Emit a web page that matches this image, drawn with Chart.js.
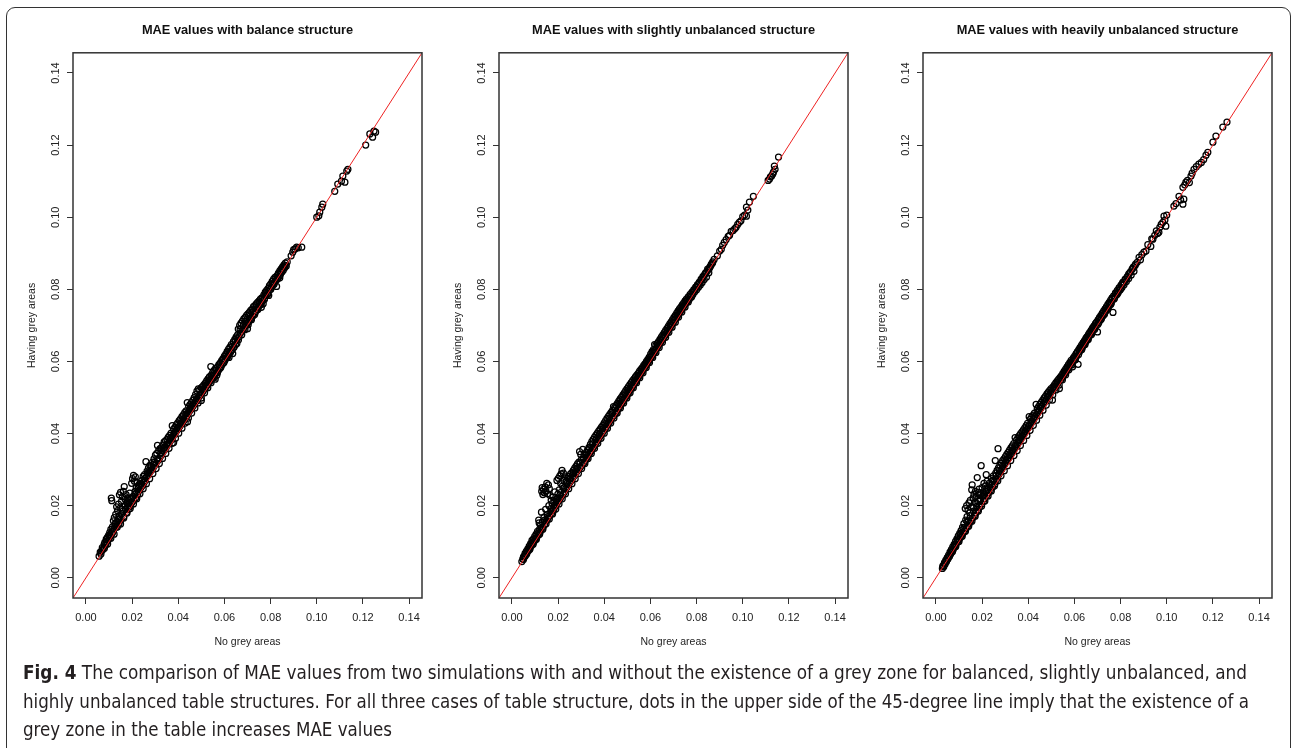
<!DOCTYPE html>
<html>
<head>
<meta charset="utf-8">
<script src="https://cdn.jsdelivr.net/npm/chart.js@4.4.0/dist/chart.umd.min.js"></script>
<style>
  body { margin: 0; width: 1292px; height: 748px; overflow: hidden; background: #fff; position: relative; }
  .frame { position: absolute; left: 6px; top: 7px; width: 1285px; height: 800px; border: 1.5px solid #333; border-radius: 9px; box-sizing: border-box; }
  .panel { position: absolute; top: 0; }
  #p1 { left: 13px; }
  #p2 { left: 439px; }
  #p3 { left: 863px; }
  .caption { position: absolute; left: 23px; top: 658px; font-family: 'Liberation Sans Narrow', 'DejaVu Sans Condensed', sans-serif; font-size: 19px; line-height: 28.5px; color: #231f20; white-space: nowrap; }
  .caption span { display: inline-block; transform-origin: 0 50%; }
</style>
</head>
<body>
<div class="frame"></div>
<canvas class="panel" id="p1" width="417" height="660"></canvas>
<canvas class="panel" id="p2" width="417" height="660"></canvas>
<canvas class="panel" id="p3" width="417" height="660"></canvas>
<div class="caption">
  <span data-w="1224"><b>Fig. 4</b> The comparison of MAE values from two simulations with and without the existence of a grey zone for balanced, slightly unbalanced, and</span><br>
  <span data-w="1226">highly unbalanced table structures. For all three cases of table structure, dots in the upper side of the 45-degree line imply that the existence of a</span><br>
  <span data-w="369">grey zone in the table increases MAE values</span>
</div>
<script>
// axis range (0..0.14 plus R's 4% margin) and tick labels
const axisMin = -0.0056;
const axisMax = 0.1456;
const tickValues = [0, 0.02, 0.04, 0.06, 0.08, 0.10, 0.12, 0.14];

const titles = [
  'MAE values with balance structure',
  'MAE values with slightly unbalanced structure',
  'MAE values with heavily unbalanced structure'
];
const xTitle = 'No grey areas';
const yTitle = 'Having grey areas';

// [no grey areas, having grey areas]
const balancePoints = [
  [0.0057,0.0060],[0.0062,0.0071],[0.0068,0.0075],[0.0071,0.0084],[0.0075,0.0080],[0.0079,0.0093],[0.0082,0.0098],[0.0085,0.0090],
  [0.0088,0.0107],[0.0090,0.0101],[0.0093,0.0112],[0.0096,0.0104],[0.0098,0.0118],[0.0101,0.0110],[0.0103,0.0125],[0.0106,0.0116],
  [0.0108,0.0134],[0.0110,0.0221],[0.0112,0.0214],[0.0113,0.0122],[0.0115,0.0141],[0.0117,0.0128],[0.0119,0.0158],[0.0121,0.0135],
  [0.0123,0.0167],[0.0125,0.0143],[0.0127,0.0150],[0.0129,0.0176],[0.0131,0.0140],[0.0133,0.0197],[0.0135,0.0155],[0.0137,0.0186],
  [0.0139,0.0162],[0.0141,0.0204],[0.0143,0.0150],[0.0145,0.0230],[0.0146,0.0170],[0.0148,0.0193],[0.0150,0.0237],[0.0152,0.0160],
  [0.0154,0.0212],[0.0156,0.0178],[0.0158,0.0225],[0.0160,0.0184],[0.0162,0.0240],[0.0164,0.0170],[0.0166,0.0253],[0.0168,0.0200],
  [0.0170,0.0218],[0.0172,0.0190],[0.0174,0.0231],[0.0176,0.0181],[0.0178,0.0208],[0.0180,0.0196],[0.0182,0.0222],[0.0184,0.0190],
  [0.0186,0.0214],[0.0188,0.0201],[0.0190,0.0235],[0.0192,0.0198],[0.0194,0.0219],[0.0196,0.0206],[0.0198,0.0262],[0.0200,0.0210],
  [0.0202,0.0275],[0.0204,0.0226],[0.0206,0.0284],[0.0208,0.0215],[0.0210,0.0268],[0.0212,0.0232],[0.0214,0.0280],[0.0216,0.0222],
  [0.0218,0.0250],[0.0220,0.0236],[0.0222,0.0264],[0.0224,0.0231],[0.0226,0.0248],[0.0228,0.0240],[0.0230,0.0258],[0.0233,0.0244],
  [0.0236,0.0262],[0.0239,0.0251],[0.0242,0.0270],[0.0245,0.0256],[0.0248,0.0281],[0.0251,0.0263],[0.0254,0.0286],[0.0257,0.0270],
  [0.0260,0.0322],[0.0262,0.0280],[0.0265,0.0296],[0.0268,0.0284],[0.0271,0.0305],[0.0274,0.0290],[0.0277,0.0312],[0.0280,0.0296],
  [0.0283,0.0309],[0.0286,0.0300],[0.0289,0.0321],[0.0292,0.0306],[0.0295,0.0330],[0.0298,0.0312],[0.0301,0.0340],[0.0304,0.0318],
  [0.0307,0.0345],[0.0310,0.0367],[0.0312,0.0325],[0.0315,0.0352],[0.0318,0.0331],[0.0321,0.0358],[0.0324,0.0338],[0.0327,0.0360],
  [0.0330,0.0346],[0.0333,0.0368],[0.0336,0.0351],[0.0339,0.0377],[0.0342,0.0356],[0.0345,0.0380],[0.0348,0.0362],[0.0351,0.0384],
  [0.0354,0.0368],[0.0357,0.0390],[0.0360,0.0374],[0.0363,0.0395],[0.0366,0.0380],[0.0369,0.0401],[0.0372,0.0385],[0.0374,0.0422],
  [0.0377,0.0392],[0.0380,0.0412],[0.0383,0.0398],[0.0386,0.0418],[0.0389,0.0404],[0.0392,0.0425],[0.0395,0.0409],[0.0398,0.0430],
  [0.0401,0.0414],[0.0404,0.0436],[0.0407,0.0420],[0.0410,0.0441],[0.0413,0.0426],[0.0416,0.0447],[0.0419,0.0432],[0.0422,0.0452],
  [0.0425,0.0437],[0.0428,0.0458],[0.0431,0.0443],[0.0434,0.0463],[0.0437,0.0449],[0.0439,0.0486],[0.0442,0.0456],[0.0445,0.0475],
  [0.0448,0.0461],[0.0451,0.0480],[0.0454,0.0467],[0.0457,0.0486],[0.0460,0.0472],[0.0463,0.0492],[0.0466,0.0478],[0.0469,0.0500],
  [0.0472,0.0484],[0.0475,0.0508],[0.0478,0.0490],[0.0481,0.0518],[0.0484,0.0496],[0.0487,0.0524],[0.0490,0.0502],[0.0493,0.0521],
  [0.0496,0.0508],[0.0499,0.0527],[0.0502,0.0513],[0.0505,0.0530],[0.0508,0.0518],[0.0511,0.0535],[0.0514,0.0524],[0.0517,0.0540],
  [0.0520,0.0529],[0.0523,0.0546],[0.0526,0.0535],[0.0529,0.0552],[0.0532,0.0541],[0.0535,0.0557],[0.0538,0.0546],[0.0541,0.0586],
  [0.0543,0.0562],[0.0546,0.0552],[0.0549,0.0569],[0.0552,0.0557],[0.0555,0.0575],[0.0558,0.0563],[0.0561,0.0580],[0.0564,0.0568],
  [0.0567,0.0562],[0.0570,0.0585],[0.0573,0.0574],[0.0576,0.0591],[0.0579,0.0580],[0.0582,0.0596],[0.0585,0.0586],[0.0588,0.0602],
  [0.0591,0.0592],[0.0594,0.0608],[0.0597,0.0598],[0.0600,0.0615],[0.0603,0.0604],[0.0606,0.0620],[0.0609,0.0610],[0.0612,0.0628],
  [0.0615,0.0615],[0.0618,0.0634],[0.0621,0.0621],[0.0624,0.0640],[0.0627,0.0628],[0.0630,0.0647],[0.0633,0.0632],[0.0636,0.0622],
  [0.0639,0.0655],[0.0642,0.0640],[0.0645,0.0661],[0.0648,0.0646],[0.0651,0.0668],[0.0654,0.0650],[0.0657,0.0674],[0.0660,0.0690],
  [0.0663,0.0668],[0.0666,0.0700],[0.0669,0.0678],[0.0672,0.0706],[0.0675,0.0684],[0.0678,0.0712],[0.0681,0.0690],[0.0684,0.0718],
  [0.0687,0.0694],[0.0690,0.0722],[0.0693,0.0700],[0.0696,0.0728],[0.0699,0.0705],[0.0702,0.0732],[0.0705,0.0710],[0.0708,0.0736],
  [0.0711,0.0715],[0.0714,0.0742],[0.0717,0.0720],[0.0720,0.0745],[0.0723,0.0726],[0.0726,0.0752],[0.0729,0.0733],[0.0732,0.0755],
  [0.0735,0.0738],[0.0738,0.0760],[0.0741,0.0745],[0.0744,0.0764],[0.0747,0.0750],[0.0750,0.0768],[0.0753,0.0756],[0.0756,0.0773],
  [0.0759,0.0762],[0.0762,0.0776],[0.0765,0.0768],[0.0768,0.0760],[0.0771,0.0785],[0.0774,0.0775],[0.0777,0.0792],[0.0780,0.0783],
  [0.0783,0.0797],[0.0786,0.0788],[0.0789,0.0802],[0.0792,0.0783],[0.0795,0.0810],[0.0798,0.0800],[0.0801,0.0815],[0.0804,0.0806],
  [0.0807,0.0822],[0.0810,0.0812],[0.0813,0.0828],[0.0816,0.0818],[0.0819,0.0833],[0.0822,0.0824],[0.0826,0.0808],[0.0828,0.0838],
  [0.0831,0.0830],[0.0834,0.0845],[0.0837,0.0836],[0.0840,0.0851],[0.0843,0.0842],[0.0846,0.0857],[0.0849,0.0848],[0.0852,0.0862],
  [0.0855,0.0853],[0.0858,0.0868],[0.0861,0.0860],[0.0864,0.0873],[0.0868,0.0865],[0.0872,0.0876],
  [0.0889,0.0893],[0.0896,0.0903],[0.0900,0.0910],[0.0906,0.0912],[0.0913,0.0917],[0.0920,0.0915],[0.0935,0.0917],
  [0.1000,0.1000],[0.1009,0.1004],[0.1013,0.1014],[0.1022,0.1028],[0.1026,0.1036],
  [0.1078,0.1072],[0.1091,0.1092],[0.1107,0.1100],[0.1113,0.1114],[0.1122,0.1097],[0.1130,0.1128],[0.1135,0.1133],
  [0.1212,0.1200],[0.1230,0.1231],[0.1242,0.1222],[0.1248,0.1239],[0.1255,0.1236],
  // points lying on and just under the 45-degree line
  [0.0065,0.0066],[0.0072,0.0078],[0.0080,0.0082],[0.0087,0.0095],[0.0094,0.0094],[0.0101,0.0115],[0.0108,0.0110],[0.0115,0.0128],
  [0.0122,0.0121],[0.0129,0.0150],[0.0136,0.0141],[0.0143,0.0171],[0.0150,0.0149],[0.0157,0.0190],[0.0164,0.0166],[0.0171,0.0200],
  [0.0178,0.0180],[0.0185,0.0207],[0.0192,0.0192],[0.0199,0.0222],[0.0206,0.0205],[0.0213,0.0240],[0.0220,0.0219],[0.0227,0.0254],
  [0.0234,0.0233],[0.0241,0.0260],[0.0248,0.0247],[0.0255,0.0275],[0.0262,0.0261],[0.0269,0.0292],[0.0276,0.0275],[0.0283,0.0300],
  [0.0290,0.0289],[0.0297,0.0320],[0.0304,0.0303],[0.0311,0.0330],[0.0318,0.0317],[0.0325,0.0347],[0.0332,0.0331],[0.0339,0.0360],
  [0.0346,0.0345],[0.0353,0.0372],[0.0360,0.0359],[0.0367,0.0388],[0.0374,0.0373],[0.0381,0.0400],[0.0388,0.0387],[0.0395,0.0415],
  [0.0402,0.0401],[0.0409,0.0428],[0.0416,0.0415],[0.0423,0.0441],[0.0430,0.0429],[0.0437,0.0455],[0.0444,0.0443],[0.0451,0.0468],
  [0.0458,0.0457],[0.0465,0.0483],[0.0472,0.0471],[0.0479,0.0497],[0.0486,0.0485],[0.0493,0.0508],[0.0500,0.0499],[0.0507,0.0522],
  [0.0514,0.0513],[0.0521,0.0535],[0.0528,0.0527],[0.0535,0.0548],[0.0542,0.0541],[0.0549,0.0560],[0.0556,0.0555],[0.0563,0.0575],
  [0.0570,0.0569],[0.0577,0.0588],[0.0584,0.0583],[0.0591,0.0602],[0.0598,0.0597],[0.0605,0.0614],[0.0612,0.0611],[0.0619,0.0627],
  [0.0626,0.0625],[0.0633,0.0642],[0.0640,0.0639],[0.0647,0.0656],[0.0654,0.0663],[0.0661,0.0660],[0.0668,0.0688],[0.0675,0.0674],
  [0.0682,0.0700],[0.0689,0.0688],[0.0696,0.0712],[0.0703,0.0702],[0.0710,0.0726],[0.0717,0.0716],[0.0724,0.0738],[0.0731,0.0730],
  [0.0738,0.0750],[0.0745,0.0744],[0.0752,0.0762],[0.0759,0.0758],[0.0766,0.0776],[0.0773,0.0772],[0.0780,0.0790],[0.0787,0.0786],
  [0.0794,0.0804],[0.0801,0.0800],[0.0808,0.0815],[0.0815,0.0814],[0.0822,0.0830],[0.0829,0.0828],[0.0836,0.0843],[0.0843,0.0848],
  [0.0850,0.0855],[0.0857,0.0862],[0.0864,0.0866],
  [0.0380,0.0375],[0.0440,0.0433],[0.0500,0.0492],[0.0560,0.0551],[0.0620,0.0611],[0.0700,0.0691],[0.0760,0.0750],[0.0840,0.0832]
];

const slightPoints = [
  [0.0043,0.0045],[0.0047,0.0052],[0.0050,0.0058],[0.0054,0.0061],[0.0057,0.0068],[0.0060,0.0064],[0.0063,0.0074],[0.0066,0.0071],
  [0.0069,0.0080],[0.0072,0.0076],[0.0075,0.0088],[0.0078,0.0083],[0.0081,0.0095],[0.0084,0.0089],[0.0087,0.0104],[0.0090,0.0096],
  [0.0093,0.0108],[0.0096,0.0101],[0.0099,0.0115],[0.0102,0.0106],[0.0105,0.0121],[0.0108,0.0113],[0.0111,0.0129],[0.0114,0.0119],
  [0.0116,0.0160],[0.0118,0.0152],[0.0120,0.0135],[0.0122,0.0126],[0.0124,0.0146],[0.0126,0.0133],[0.0128,0.0182],[0.0129,0.0240],
  [0.0131,0.0250],[0.0132,0.0155],[0.0134,0.0231],[0.0135,0.0140],[0.0137,0.0245],[0.0139,0.0168],[0.0140,0.0236],[0.0142,0.0148],
  [0.0144,0.0252],[0.0146,0.0190],[0.0147,0.0241],[0.0149,0.0158],[0.0151,0.0262],[0.0153,0.0176],[0.0154,0.0233],[0.0156,0.0165],
  [0.0158,0.0258],[0.0160,0.0200],[0.0162,0.0247],[0.0164,0.0172],[0.0166,0.0228],[0.0168,0.0184],[0.0170,0.0215],[0.0172,0.0178],
  [0.0174,0.0206],[0.0176,0.0190],[0.0178,0.0224],[0.0180,0.0186],[0.0182,0.0210],[0.0184,0.0195],[0.0186,0.0238],[0.0188,0.0199],
  [0.0190,0.0217],[0.0192,0.0203],[0.0195,0.0270],[0.0197,0.0209],[0.0199,0.0232],[0.0201,0.0276],[0.0203,0.0214],[0.0205,0.0244],
  [0.0207,0.0282],[0.0209,0.0220],[0.0211,0.0262],[0.0213,0.0288],[0.0215,0.0226],[0.0217,0.0298],[0.0219,0.0254],[0.0221,0.0231],
  [0.0223,0.0290],[0.0225,0.0270],[0.0227,0.0238],[0.0230,0.0280],[0.0233,0.0247],[0.0236,0.0268],[0.0239,0.0252],[0.0242,0.0276],
  [0.0245,0.0258],[0.0248,0.0281],[0.0251,0.0264],[0.0254,0.0288],[0.0257,0.0270],[0.0260,0.0292],[0.0263,0.0276],[0.0266,0.0298],
  [0.0269,0.0282],[0.0272,0.0304],[0.0275,0.0288],[0.0278,0.0310],[0.0281,0.0294],[0.0284,0.0316],[0.0287,0.0300],[0.0290,0.0321],
  [0.0293,0.0350],[0.0295,0.0306],[0.0298,0.0342],[0.0301,0.0328],[0.0304,0.0312],[0.0307,0.0356],[0.0310,0.0334],[0.0313,0.0320],
  [0.0316,0.0341],[0.0319,0.0326],[0.0322,0.0348],[0.0325,0.0333],[0.0328,0.0355],[0.0331,0.0340],[0.0334,0.0362],[0.0337,0.0346],
  [0.0340,0.0370],[0.0343,0.0352],[0.0346,0.0378],[0.0349,0.0358],[0.0352,0.0384],[0.0355,0.0364],[0.0358,0.0390],[0.0361,0.0370],
  [0.0364,0.0396],[0.0367,0.0377],[0.0370,0.0401],[0.0373,0.0383],[0.0376,0.0407],[0.0379,0.0389],[0.0382,0.0412],[0.0385,0.0395],
  [0.0388,0.0418],[0.0391,0.0401],[0.0394,0.0423],[0.0397,0.0407],[0.0400,0.0430],[0.0403,0.0413],[0.0406,0.0436],[0.0409,0.0419],
  [0.0412,0.0442],[0.0415,0.0425],[0.0418,0.0448],[0.0421,0.0431],[0.0424,0.0453],[0.0427,0.0437],[0.0430,0.0459],[0.0433,0.0443],
  [0.0436,0.0464],[0.0440,0.0475],[0.0442,0.0450],[0.0445,0.0472],[0.0448,0.0456],[0.0451,0.0478],[0.0454,0.0462],[0.0457,0.0484],
  [0.0460,0.0468],[0.0463,0.0490],[0.0466,0.0474],[0.0469,0.0496],[0.0472,0.0480],[0.0475,0.0501],[0.0478,0.0486],[0.0481,0.0507],
  [0.0484,0.0492],[0.0487,0.0513],[0.0490,0.0498],[0.0493,0.0519],[0.0496,0.0504],[0.0499,0.0525],[0.0502,0.0510],[0.0505,0.0530],
  [0.0508,0.0516],[0.0511,0.0536],[0.0514,0.0522],[0.0517,0.0541],[0.0520,0.0528],[0.0523,0.0547],[0.0526,0.0534],[0.0529,0.0552],
  [0.0532,0.0540],[0.0535,0.0557],[0.0538,0.0546],[0.0541,0.0562],[0.0544,0.0552],[0.0547,0.0567],[0.0550,0.0558],[0.0553,0.0573],
  [0.0556,0.0564],[0.0559,0.0578],[0.0562,0.0570],[0.0565,0.0583],[0.0568,0.0576],[0.0571,0.0589],[0.0574,0.0582],[0.0577,0.0594],
  [0.0580,0.0588],[0.0583,0.0600],[0.0586,0.0594],[0.0589,0.0606],[0.0592,0.0600],[0.0595,0.0612],[0.0598,0.0606],[0.0601,0.0620],
  [0.0604,0.0612],[0.0607,0.0627],[0.0610,0.0618],[0.0613,0.0633],[0.0616,0.0624],[0.0618,0.0647],[0.0621,0.0630],[0.0624,0.0645],
  [0.0627,0.0636],[0.0630,0.0650],[0.0633,0.0642],[0.0636,0.0656],[0.0639,0.0648],[0.0642,0.0662],[0.0645,0.0654],[0.0648,0.0668],
  [0.0651,0.0660],[0.0654,0.0674],[0.0657,0.0666],[0.0660,0.0680],[0.0663,0.0672],[0.0666,0.0686],[0.0669,0.0678],[0.0672,0.0692],
  [0.0675,0.0684],[0.0678,0.0698],[0.0681,0.0690],[0.0684,0.0704],[0.0687,0.0696],[0.0690,0.0710],[0.0693,0.0702],[0.0696,0.0716],
  [0.0699,0.0708],[0.0702,0.0722],[0.0705,0.0714],[0.0708,0.0728],[0.0711,0.0720],[0.0714,0.0734],[0.0717,0.0726],[0.0720,0.0740],
  [0.0723,0.0732],[0.0726,0.0746],[0.0729,0.0738],[0.0732,0.0751],[0.0735,0.0744],[0.0738,0.0757],[0.0741,0.0750],[0.0744,0.0762],
  [0.0747,0.0756],[0.0750,0.0768],[0.0753,0.0761],[0.0756,0.0773],[0.0760,0.0767],[0.0764,0.0779],[0.0768,0.0772],[0.0772,0.0786],
  [0.0776,0.0779],[0.0780,0.0792],[0.0784,0.0786],[0.0788,0.0799],[0.0792,0.0793],[0.0796,0.0806],[0.0800,0.0799],[0.0804,0.0813],
  [0.0808,0.0806],[0.0812,0.0820],[0.0816,0.0812],[0.0820,0.0828],[0.0824,0.0819],[0.0828,0.0836],[0.0833,0.0827],[0.0838,0.0844],
  [0.0843,0.0834],[0.0848,0.0852],[0.0853,0.0846],[0.0858,0.0862],[0.0864,0.0870],[0.0870,0.0876],[0.0876,0.0883],
  [0.0890,0.0893],[0.0900,0.0906],[0.0907,0.0911],[0.0913,0.0922],[0.0920,0.0930],[0.0928,0.0938],[0.0937,0.0947],[0.0943,0.0950],
  [0.0950,0.0961],[0.0958,0.0963],[0.0965,0.0968],[0.0971,0.0972],[0.0978,0.0980],[0.0985,0.0986],[0.0992,0.0990],[0.1000,0.1002],
  [0.1008,0.1006],[0.1016,0.1003],[0.1016,0.1028],[0.1022,0.1020],[0.1029,0.1042],[0.1046,0.1058],
  [0.1110,0.1102],[0.1116,0.1106],[0.1120,0.1112],[0.1125,0.1114],[0.1130,0.1120],[0.1133,0.1125],[0.1137,0.1142],[0.1140,0.1133],
  [0.1155,0.1167],
  // points lying on the 45-degree line
  [0.0050,0.0051],[0.0057,0.0060],[0.0064,0.0066],[0.0071,0.0078],[0.0078,0.0079],[0.0085,0.0094],[0.0092,0.0093],[0.0099,0.0108],
  [0.0106,0.0107],[0.0113,0.0124],[0.0120,0.0121],[0.0127,0.0139],[0.0134,0.0135],[0.0141,0.0160],[0.0148,0.0150],[0.0155,0.0170],
  [0.0162,0.0163],[0.0169,0.0192],[0.0176,0.0177],[0.0183,0.0201],[0.0190,0.0191],[0.0197,0.0220],[0.0204,0.0205],[0.0211,0.0236],
  [0.0218,0.0219],[0.0225,0.0250],[0.0232,0.0233],[0.0239,0.0262],[0.0246,0.0247],[0.0253,0.0275],[0.0260,0.0261],[0.0267,0.0290],
  [0.0274,0.0275],[0.0281,0.0303],[0.0288,0.0289],[0.0295,0.0318],[0.0302,0.0303],[0.0309,0.0330],[0.0316,0.0317],[0.0323,0.0341],
  [0.0330,0.0331],[0.0337,0.0358],[0.0344,0.0345],[0.0351,0.0372],[0.0358,0.0359],[0.0365,0.0385],[0.0372,0.0373],[0.0379,0.0399],
  [0.0386,0.0387],[0.0393,0.0414],[0.0400,0.0401],[0.0407,0.0427],[0.0414,0.0415],[0.0421,0.0441],[0.0428,0.0429],[0.0435,0.0455],
  [0.0442,0.0443],[0.0449,0.0469],[0.0456,0.0457],[0.0463,0.0482],[0.0470,0.0471],[0.0477,0.0495],[0.0484,0.0485],[0.0491,0.0508],
  [0.0498,0.0499],[0.0505,0.0521],[0.0512,0.0513],[0.0519,0.0534],[0.0526,0.0527],[0.0533,0.0547],[0.0540,0.0541],[0.0547,0.0560],
  [0.0554,0.0555],[0.0561,0.0574],[0.0568,0.0569],[0.0575,0.0587],[0.0582,0.0583],[0.0589,0.0601],[0.0596,0.0597],[0.0603,0.0615],
  [0.0610,0.0611],[0.0617,0.0630],[0.0624,0.0625],[0.0631,0.0644],[0.0638,0.0639],[0.0645,0.0659],[0.0652,0.0653],[0.0659,0.0672],
  [0.0666,0.0667],[0.0673,0.0686],[0.0680,0.0681],[0.0687,0.0700],[0.0694,0.0695],[0.0701,0.0714],[0.0708,0.0709],[0.0715,0.0727],
  [0.0722,0.0723],[0.0729,0.0741],[0.0736,0.0737],[0.0743,0.0754],[0.0750,0.0751],[0.0757,0.0768],[0.0764,0.0765],[0.0771,0.0781],
  [0.0778,0.0779],[0.0785,0.0794],[0.0792,0.0798],[0.0799,0.0807],[0.0806,0.0813],[0.0813,0.0818],[0.0820,0.0825],[0.0827,0.0832],
  [0.0834,0.0840],[0.0841,0.0847],[0.0848,0.0856],[0.0855,0.0858],[0.0862,0.0866],[0.0869,0.0873]
];

const heavyPoints = [
  [0.0028,0.0026],[0.0031,0.0034],[0.0034,0.0031],[0.0037,0.0042],[0.0040,0.0038],[0.0043,0.0049],[0.0046,0.0045],[0.0049,0.0056],
  [0.0052,0.0052],[0.0055,0.0063],[0.0058,0.0060],[0.0061,0.0071],[0.0064,0.0066],[0.0067,0.0078],[0.0070,0.0073],[0.0073,0.0086],
  [0.0076,0.0080],[0.0079,0.0093],[0.0082,0.0087],[0.0085,0.0101],[0.0088,0.0094],[0.0091,0.0108],[0.0094,0.0100],[0.0097,0.0116],
  [0.0100,0.0106],[0.0103,0.0123],[0.0106,0.0112],[0.0109,0.0131],[0.0112,0.0118],[0.0115,0.0140],[0.0118,0.0124],[0.0121,0.0150],
  [0.0124,0.0130],[0.0127,0.0192],[0.0129,0.0160],[0.0131,0.0137],[0.0133,0.0200],[0.0135,0.0170],[0.0137,0.0144],[0.0139,0.0188],
  [0.0141,0.0158],[0.0143,0.0208],[0.0145,0.0151],[0.0147,0.0180],[0.0149,0.0215],[0.0151,0.0158],[0.0153,0.0196],[0.0155,0.0244],
  [0.0157,0.0258],[0.0159,0.0166],[0.0161,0.0222],[0.0163,0.0185],[0.0165,0.0232],[0.0167,0.0173],[0.0169,0.0210],[0.0171,0.0240],
  [0.0173,0.0180],[0.0175,0.0226],[0.0177,0.0198],[0.0179,0.0278],[0.0181,0.0188],[0.0183,0.0236],[0.0185,0.0212],[0.0187,0.0246],
  [0.0189,0.0196],[0.0191,0.0230],[0.0193,0.0218],[0.0196,0.0311],[0.0198,0.0205],[0.0200,0.0250],[0.0202,0.0226],[0.0204,0.0238],
  [0.0206,0.0212],[0.0208,0.0262],[0.0210,0.0232],[0.0212,0.0220],[0.0214,0.0255],[0.0216,0.0240],[0.0218,0.0286],[0.0220,0.0228],
  [0.0222,0.0268],[0.0225,0.0245],[0.0228,0.0236],[0.0231,0.0262],[0.0234,0.0250],[0.0237,0.0244],[0.0240,0.0275],[0.0243,0.0258],
  [0.0246,0.0252],[0.0249,0.0283],[0.0252,0.0266],[0.0255,0.0260],[0.0257,0.0325],[0.0259,0.0290],[0.0262,0.0272],[0.0265,0.0298],
  [0.0268,0.0280],[0.0269,0.0358],[0.0271,0.0305],[0.0274,0.0288],[0.0277,0.0312],[0.0280,0.0295],[0.0283,0.0318],[0.0286,0.0302],
  [0.0289,0.0325],[0.0292,0.0308],[0.0295,0.0330],[0.0298,0.0315],[0.0301,0.0336],[0.0304,0.0321],[0.0307,0.0342],[0.0310,0.0327],
  [0.0313,0.0348],[0.0316,0.0333],[0.0319,0.0354],[0.0322,0.0339],[0.0325,0.0360],[0.0328,0.0345],[0.0331,0.0366],[0.0334,0.0351],
  [0.0337,0.0372],[0.0340,0.0357],[0.0343,0.0389],[0.0346,0.0363],[0.0349,0.0382],[0.0352,0.0369],[0.0355,0.0388],[0.0358,0.0375],
  [0.0361,0.0394],[0.0364,0.0381],[0.0367,0.0400],[0.0370,0.0387],[0.0373,0.0405],[0.0376,0.0393],[0.0379,0.0410],[0.0382,0.0399],
  [0.0385,0.0416],[0.0388,0.0405],[0.0391,0.0422],[0.0394,0.0411],[0.0397,0.0428],[0.0400,0.0416],[0.0404,0.0447],[0.0406,0.0422],
  [0.0409,0.0440],[0.0412,0.0428],[0.0415,0.0446],[0.0418,0.0434],[0.0421,0.0451],[0.0424,0.0440],[0.0427,0.0457],[0.0430,0.0446],
  [0.0434,0.0481],[0.0436,0.0452],[0.0439,0.0469],[0.0442,0.0458],[0.0445,0.0475],[0.0448,0.0464],[0.0451,0.0481],[0.0454,0.0470],
  [0.0457,0.0487],[0.0460,0.0476],[0.0463,0.0493],[0.0466,0.0482],[0.0469,0.0499],[0.0472,0.0488],[0.0475,0.0504],[0.0478,0.0494],
  [0.0481,0.0510],[0.0484,0.0500],[0.0487,0.0515],[0.0490,0.0506],[0.0493,0.0520],[0.0496,0.0512],[0.0499,0.0525],[0.0502,0.0518],
  [0.0505,0.0493],[0.0508,0.0530],[0.0511,0.0524],[0.0514,0.0536],[0.0517,0.0530],[0.0520,0.0541],[0.0523,0.0536],[0.0526,0.0546],
  [0.0529,0.0541],[0.0532,0.0551],[0.0535,0.0525],[0.0538,0.0556],[0.0541,0.0549],[0.0544,0.0561],[0.0547,0.0555],[0.0550,0.0567],
  [0.0553,0.0561],[0.0556,0.0573],[0.0559,0.0567],[0.0562,0.0579],[0.0565,0.0573],[0.0568,0.0585],[0.0571,0.0579],[0.0574,0.0591],
  [0.0577,0.0585],[0.0580,0.0597],[0.0583,0.0591],[0.0586,0.0603],[0.0589,0.0597],[0.0592,0.0585],[0.0595,0.0609],[0.0598,0.0603],
  [0.0601,0.0615],[0.0604,0.0609],[0.0607,0.0621],[0.0610,0.0615],[0.0613,0.0627],[0.0616,0.0592],[0.0619,0.0633],[0.0622,0.0627],
  [0.0625,0.0639],[0.0628,0.0633],[0.0631,0.0645],[0.0634,0.0639],[0.0637,0.0651],[0.0640,0.0645],[0.0643,0.0657],[0.0646,0.0651],
  [0.0649,0.0663],[0.0652,0.0657],[0.0655,0.0669],[0.0658,0.0663],[0.0661,0.0675],[0.0664,0.0669],[0.0667,0.0681],[0.0670,0.0675],
  [0.0673,0.0687],[0.0676,0.0681],[0.0679,0.0693],[0.0682,0.0687],[0.0685,0.0699],[0.0688,0.0693],[0.0691,0.0705],[0.0694,0.0699],
  [0.0697,0.0710],[0.0700,0.0682],[0.0703,0.0716],[0.0706,0.0708],[0.0709,0.0722],[0.0712,0.0715],[0.0715,0.0728],[0.0718,0.0721],
  [0.0721,0.0734],[0.0724,0.0727],[0.0727,0.0740],[0.0730,0.0733],[0.0733,0.0746],[0.0736,0.0739],[0.0739,0.0752],[0.0742,0.0745],
  [0.0745,0.0758],[0.0748,0.0751],[0.0751,0.0764],[0.0754,0.0757],[0.0757,0.0770],[0.0760,0.0763],[0.0763,0.0776],[0.0767,0.0736],
  [0.0770,0.0782],[0.0774,0.0777],[0.0778,0.0790],[0.0782,0.0784],[0.0786,0.0797],[0.0790,0.0791],[0.0794,0.0805],[0.0798,0.0798],
  [0.0802,0.0812],[0.0806,0.0805],[0.0810,0.0820],[0.0815,0.0813],[0.0820,0.0828],[0.0825,0.0822],[0.0830,0.0836],[0.0835,0.0830],
  [0.0840,0.0846],[0.0846,0.0840],[0.0852,0.0858],[0.0858,0.0850],[0.0865,0.0870],[0.0872,0.0875],[0.0880,0.0889],[0.0886,0.0882],
  [0.0892,0.0896],[0.0901,0.0903],[0.0910,0.0906],[0.0918,0.0924],[0.0931,0.0919],[0.0935,0.0940],[0.0940,0.0939],[0.0948,0.0950],
  [0.0955,0.0962],[0.0960,0.0955],[0.0966,0.0958],[0.0970,0.0972],[0.0976,0.0980],[0.0983,0.0986],[0.0988,0.1003],[0.0992,0.0992],
  [0.0996,0.0975],[0.1000,0.1006],[0.1031,0.1031],[0.1040,0.1038],[0.1053,0.1058],[0.1060,0.1048],[0.1070,0.1036],[0.1070,0.1083],
  [0.1074,0.1050],[0.1078,0.1090],[0.1083,0.1097],[0.1090,0.1102],[0.1098,0.1096],[0.1105,0.1114],[0.1110,0.1122],[0.1118,0.1133],
  [0.1128,0.1140],[0.1139,0.1147],[0.1150,0.1152],[0.1160,0.1160],[0.1170,0.1172],[0.1178,0.1180],[0.1200,0.1208],[0.1213,0.1225],
  [0.1243,0.1250],[0.1261,0.1264],
  // points lying on the 45-degree line
  [0.0030,0.0031],[0.0037,0.0038],[0.0044,0.0046],[0.0051,0.0055],[0.0058,0.0059],[0.0065,0.0072],[0.0072,0.0073],[0.0079,0.0088],
  [0.0086,0.0087],[0.0093,0.0105],[0.0100,0.0101],[0.0107,0.0121],[0.0114,0.0115],[0.0121,0.0138],[0.0128,0.0129],[0.0135,0.0156],
  [0.0142,0.0143],[0.0149,0.0172],[0.0156,0.0157],[0.0163,0.0194],[0.0170,0.0171],[0.0177,0.0206],[0.0184,0.0185],[0.0191,0.0216],
  [0.0198,0.0199],[0.0205,0.0228],[0.0212,0.0213],[0.0219,0.0245],[0.0226,0.0227],[0.0233,0.0258],[0.0240,0.0241],[0.0247,0.0270],
  [0.0254,0.0255],[0.0261,0.0284],[0.0268,0.0269],[0.0275,0.0298],[0.0282,0.0283],[0.0289,0.0312],[0.0296,0.0297],[0.0303,0.0326],
  [0.0310,0.0311],[0.0317,0.0340],[0.0324,0.0325],[0.0331,0.0354],[0.0338,0.0339],[0.0345,0.0368],[0.0352,0.0353],[0.0359,0.0380],
  [0.0366,0.0367],[0.0373,0.0393],[0.0380,0.0381],[0.0387,0.0407],[0.0394,0.0395],[0.0401,0.0421],[0.0408,0.0409],[0.0415,0.0434],
  [0.0422,0.0423],[0.0429,0.0448],[0.0436,0.0437],[0.0443,0.0462],[0.0450,0.0451],[0.0457,0.0475],[0.0464,0.0465],[0.0471,0.0489],
  [0.0478,0.0479],[0.0485,0.0502],[0.0492,0.0493],[0.0499,0.0515],[0.0506,0.0507],[0.0513,0.0528],[0.0520,0.0521],[0.0527,0.0541],
  [0.0534,0.0535],[0.0541,0.0555],[0.0548,0.0549],[0.0555,0.0568],[0.0562,0.0563],[0.0569,0.0582],[0.0576,0.0577],[0.0583,0.0596],
  [0.0590,0.0591],[0.0597,0.0610],[0.0604,0.0605],[0.0611,0.0624],[0.0618,0.0619],[0.0625,0.0638],[0.0632,0.0633],[0.0639,0.0652],
  [0.0646,0.0647],[0.0653,0.0666],[0.0660,0.0661],[0.0667,0.0680],[0.0674,0.0675],[0.0681,0.0694],[0.0688,0.0689],[0.0695,0.0707],
  [0.0702,0.0703],[0.0709,0.0720],[0.0716,0.0717],[0.0723,0.0734],[0.0730,0.0731],[0.0737,0.0748],[0.0744,0.0745],[0.0751,0.0762],
  [0.0758,0.0759],[0.0765,0.0775],[0.0772,0.0773],[0.0779,0.0789],[0.0786,0.0787],[0.0793,0.0802],[0.0800,0.0801],[0.0807,0.0815],
  [0.0814,0.0818],[0.0821,0.0826],[0.0828,0.0833],[0.0835,0.0842],[0.0842,0.0848],[0.0849,0.0855],[0.0856,0.0862],[0.0863,0.0866]
];

const fontFamily = "'Liberation Sans', Arial, sans-serif";

// draws the closed box round the plotting region, like R's box()
const framePlugin = {
  id: 'frame',
  afterDraw(chart) {
    const { ctx, chartArea } = chart;
    ctx.save();
    ctx.strokeStyle = '#333';
    ctx.lineWidth = 1.5;
    ctx.strokeRect(chartArea.left, chartArea.top, chartArea.right - chartArea.left, chartArea.bottom - chartArea.top);
    ctx.restore();
  }
};

function makeChart(id, title, points) {
  const ctx = document.getElementById(id).getContext('2d');
  return new Chart(ctx, {
    type: 'scatter',
    data: {
      datasets: [{
        // 45-degree reference line across the whole plotting range
        data: [{ x: axisMin, y: axisMin }, { x: axisMax, y: axisMax }],
        showLine: true,
        borderColor: '#ee2222',
        borderWidth: 1,
        pointRadius: 0,
        order: 0
      }, {
        data: points.map(p => ({ x: p[0], y: p[1] })),
        pointRadius: 3,
        pointBorderWidth: 1.25,
        pointBorderColor: '#000',
        pointBackgroundColor: 'rgba(0,0,0,0)',
        order: 1
      }]
    },
    options: {
      responsive: false,
      animation: false,
      layout: { padding: { top: 0, right: 8, bottom: 0, left: 0 } },
      plugins: {
        legend: { display: false },
        tooltip: { enabled: false },
        title: {
          display: true,
          text: title,
          fullSize: false,
          color: '#111',
          font: { family: fontFamily, size: 12.8, weight: 'bold', lineHeight: 1 },
          padding: { top: 24, bottom: 16 }
        }
      },
      scales: {
        x: {
          type: 'linear',
          position: 'bottom',
          min: axisMin,
          max: axisMax,
          afterBuildTicks: scale => { scale.ticks = tickValues.map(v => ({ value: v })); },
          afterFit: scale => { scale.height = 62; },
          border: { display: false },
          grid: { drawOnChartArea: false, drawTicks: true, tickLength: 6, color: '#333' },
          ticks: {
            autoSkip: false, maxRotation: 0, padding: 7, color: '#222',
            font: { family: fontFamily, size: 11, lineHeight: 1.2 },
            callback: v => v.toFixed(2)
          },
          title: {
            display: true, text: xTitle, color: '#222',
            font: { family: fontFamily, size: 10.5, lineHeight: 1.2 },
            padding: { top: 0, bottom: 12 }
          }
        },
        y: {
          type: 'linear',
          position: 'left',
          min: axisMin,
          max: axisMax,
          afterBuildTicks: scale => { scale.ticks = tickValues.map(v => ({ value: v })); },
          afterFit: scale => { scale.width = 60; },
          border: { display: false },
          grid: { drawOnChartArea: false, drawTicks: true, tickLength: 6, color: '#333' },
          ticks: {
            autoSkip: false, minRotation: 90, maxRotation: 90, crossAlign: 'center', padding: 0, color: '#222',
            font: { family: fontFamily, size: 11, lineHeight: 1.2 },
            callback: v => v.toFixed(2)
          },
          title: {
            display: true, text: yTitle, color: '#222',
            font: { family: fontFamily, size: 10.5, lineHeight: 1.2 },
            padding: { top: 13, bottom: 0 }
          }
        }
      }
    },
    plugins: [framePlugin]
  });
}

makeChart('p1', titles[0], balancePoints);
makeChart('p2', titles[1], slightPoints);
makeChart('p3', titles[2], heavyPoints);

// squeeze each caption line to the width it has in the figure
document.querySelectorAll('.caption span').forEach(el => {
  const target = Number(el.dataset.w);
  const w = el.getBoundingClientRect().width;
  if (w > 0) el.style.transform = 'scaleX(' + (target / w) + ')';
});
</script>
</body>
</html>
